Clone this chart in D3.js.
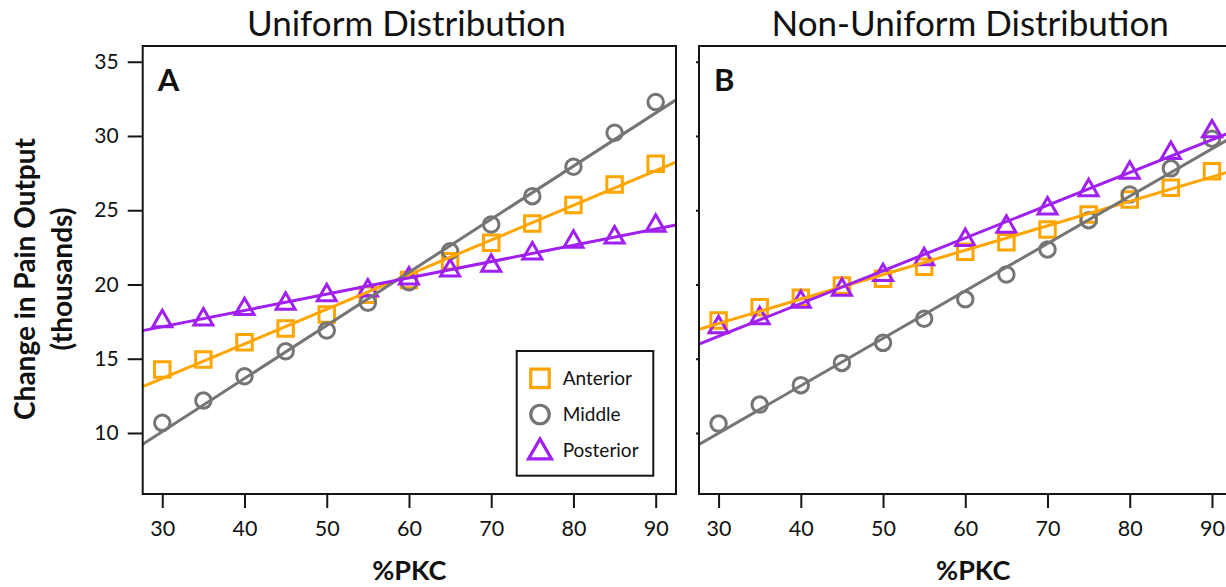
<!DOCTYPE html>
<html>
<head>
<meta charset="utf-8">
<script src="https://cdn.jsdelivr.net/npm/d3@7"></script>
<style>
  body { margin: 0; background: #fff; }
  svg { display: block; }
  text { font-family: Lato, "Open Sans", sans-serif; fill: #111; }
</style>
</head>
<body>
<svg id="chart" width="1226" height="587"></svg>
<script>
// %PKC levels sampled in both simulations
const pkc = [30, 35, 40, 45, 50, 55, 60, 65, 70, 75, 80, 85, 90];

// Change in pain output (thousands), uniform PKC distribution
const uniformAnterior  = [14.27, 14.95, 16.11, 17.03, 17.98, 19.30, 20.30, 21.57, 22.81, 24.11, 25.35, 26.74, 28.13];
const uniformMiddle    = [10.68, 12.18, 13.82, 15.50, 16.90, 18.77, 20.15, 22.24, 24.04, 25.95, 27.93, 30.22, 32.29];
const uniformPosterior = [17.53, 17.64, 18.34, 18.70, 19.28, 19.60, 20.40, 20.94, 21.26, 22.09, 22.88, 23.17, 23.96];

// Change in pain output (thousands), non-uniform PKC distribution
const nonUniformAnterior  = [17.57, 18.47, 19.10, 19.93, 20.38, 21.19, 22.20, 22.85, 23.70, 24.72, 25.73, 26.51, 27.63];
const nonUniformMiddle    = [10.63, 11.91, 13.22, 14.72, 16.07, 17.69, 19.00, 20.67, 22.36, 24.33, 26.06, 27.82, 29.82];
const nonUniformPosterior = [17.12, 17.73, 18.83, 19.64, 20.63, 21.70, 22.99, 23.89, 25.12, 26.35, 27.52, 28.85, 30.31];

const seriesNames = ["Anterior", "Middle", "Posterior"];
const panelTitles = ["Uniform Distribution", "Non-Uniform Distribution"];
const panelLetters = ["A", "B"];
const xTicks = [30, 40, 50, 60, 70, 80, 90];
const yTicks = [10, 15, 20, 25, 30, 35];
const xTitle = "%PKC";
const yTitleLines = ["Change in Pain Output", "(thousands)"];

// ---- styling and layout ----
const colors = { Anterior: "#FFA500", Middle: "#757575", Posterior: "#A020F0" };
const shapes = { Anterior: "square", Middle: "circle", Posterior: "triangle" };
const ink = "#151515";

const panelsData = [
  [uniformAnterior, uniformMiddle, uniformPosterior],
  [nonUniformAnterior, nonUniformMiddle, nonUniformPosterior]
];

const plotTop = 46, plotBottom = 494;
const panelBoxes = [
  { x0: 142.7, x1: 676, labelShift: -3 },
  { x0: 699, x1: 1232.3, labelShift: 4.5 }
];
const xDomain = [27.62, 92.47];
const yDomain = [5.89, 36.06];

const svg = d3.select("#chart");

// marker path generator centred on (0,0)
function markerPath(shape, s) {
  if (shape === "square") {
    const h = s / 2;
    return `M${-h},${-h}H${h}V${h}H${-h}Z`;
  }
  if (shape === "circle") {
    const r = s / 2;
    return `M${r},0A${r},${r} 0 1,1 ${-r},0A${r},${r} 0 1,1 ${r},0Z`;
  }
  // equilateral triangle with its centroid at the origin
  const hgt = s * Math.sqrt(3) / 2;
  return `M0,${-2 * hgt / 3}L${s / 2},${hgt / 3}L${-s / 2},${hgt / 3}Z`;
}
const markerSize = { square: 15.5, circle: 15.5, triangle: 19 };

// ordinary least-squares fit
function linearFit(xs, ys) {
  const mx = d3.mean(xs), my = d3.mean(ys);
  let sxy = 0, sxx = 0;
  xs.forEach((x, i) => { sxy += (x - mx) * (ys[i] - my); sxx += (x - mx) * (x - mx); });
  const slope = sxy / sxx;
  return { slope, intercept: my - slope * mx };
}

const y = d3.scaleLinear().domain(yDomain).range([plotBottom, plotTop]);

panelsData.forEach((series, p) => {
  const box = panelBoxes[p];
  const x = d3.scaleLinear().domain(xDomain).range([box.x0, box.x1]);
  const centerX = (box.x0 + box.x1) / 2 + box.labelShift;
  const g = svg.append("g");

  // clip region for the plotting area
  const clipId = "clip" + p;
  svg.append("clipPath").attr("id", clipId)
    .append("rect")
    .attr("x", box.x0).attr("y", plotTop)
    .attr("width", box.x1 - box.x0).attr("height", plotBottom - plotTop);

  // axes
  const yAxis = d3.axisLeft(y).tickValues(yTicks);
  if (p === 0) yAxis.tickSize(15).tickPadding(9);
  else yAxis.tickSize(3).tickFormat("");
  g.append("g")
    .attr("transform", `translate(${box.x0},0)`)
    .call(yAxis)
    .call(a => a.select(".domain").remove())
    .call(a => a.selectAll("line").attr("stroke", ink).attr("stroke-width", 2))
    .call(a => a.selectAll("text").attr("font-size", 21).attr("font-family", "Lato").attr("fill", ink));

  g.append("g")
    .attr("transform", `translate(0,${plotBottom})`)
    .call(d3.axisBottom(x).tickValues(xTicks).tickSize(14).tickPadding(13))
    .call(a => a.select(".domain").remove())
    .call(a => a.selectAll("line").attr("stroke", ink).attr("stroke-width", 2))
    .call(a => a.selectAll("text").attr("font-size", 21.5).attr("font-family", "Lato").attr("fill", ink));

  const plot = g.append("g").attr("clip-path", `url(#${clipId})`);

  // data markers
  series.forEach((vals, k) => {
    const name = seriesNames[k];
    plot.append("g")
      .selectAll("path")
      .data(vals.map((v, i) => [pkc[i], v]))
      .join("path")
      .attr("transform", d => `translate(${x(d[0])},${y(d[1])})`)
      .attr("d", markerPath(shapes[name], markerSize[shapes[name]]))
      .attr("fill", "none")
      .attr("stroke", colors[name])
      .attr("stroke-width", 3);
  });

  // fitted regression lines spanning the panel
  series.forEach((vals, k) => {
    const name = seriesNames[k];
    const fit = linearFit(pkc, vals);
    const ends = xDomain.map(xv => [xv, fit.intercept + fit.slope * xv]);
    plot.append("path")
      .attr("d", d3.line().x(d => x(d[0])).y(d => y(d[1]))(ends))
      .attr("fill", "none")
      .attr("stroke", colors[name])
      .attr("stroke-width", 3);
  });

  // panel frame
  g.append("rect")
    .attr("x", box.x0).attr("y", plotTop)
    .attr("width", box.x1 - box.x0).attr("height", plotBottom - plotTop)
    .attr("fill", "none").attr("stroke", ink).attr("stroke-width", 2);

  // panel letter
  g.append("text")
    .attr("x", box.x0 + 15).attr("y", 91)
    .attr("font-size", 31).attr("font-weight", 700)
    .text(panelLetters[p]);

  // panel title
  g.append("text")
    .attr("x", centerX).attr("y", 36)
    .attr("text-anchor", "middle")
    .attr("font-size", 35)
    .text(panelTitles[p]);

  // x-axis title
  g.append("text")
    .attr("x", centerX + 3).attr("y", 580)
    .attr("text-anchor", "middle")
    .attr("font-size", 27).attr("font-weight", 700)
    .text(xTitle);

  // legend (panel A only)
  if (p === 0) {
    const lg = g.append("g");
    lg.append("rect")
      .attr("x", 516.7).attr("y", 351)
      .attr("width", 136.6).attr("height", 124.7)
      .attr("fill", "#fff").attr("stroke", ink).attr("stroke-width", 2);
    const rowY = d3.scalePoint().domain(seriesNames).range([378.3, 450.7]);
    const legendSize = { square: 18.5, circle: 18.5, triangle: 23 };
    seriesNames.forEach(name => {
      lg.append("path")
        .attr("transform", `translate(540,${rowY(name) + (shapes[name] === "triangle" ? 1.5 : 0)})`)
        .attr("d", markerPath(shapes[name], legendSize[shapes[name]]))
        .attr("fill", "none")
        .attr("stroke", colors[name])
        .attr("stroke-width", 3.2);
      lg.append("text")
        .attr("x", 562.7).attr("y", rowY(name))
        .attr("dy", "0.35em")
        .attr("font-size", 19)
        .text(name);
    });
  }
});

// y-axis title (two lines, rotated)
const yt = svg.append("text")
  .attr("transform", "translate(0,279) rotate(-90)")
  .attr("text-anchor", "middle")
  .attr("font-size", 28).attr("font-weight", 700);
yTitleLines.forEach((line, i) => {
  yt.append("tspan").attr("x", 0).attr("y", i === 0 ? 35 : 72).text(line);
});
</script>
</body>
</html>
